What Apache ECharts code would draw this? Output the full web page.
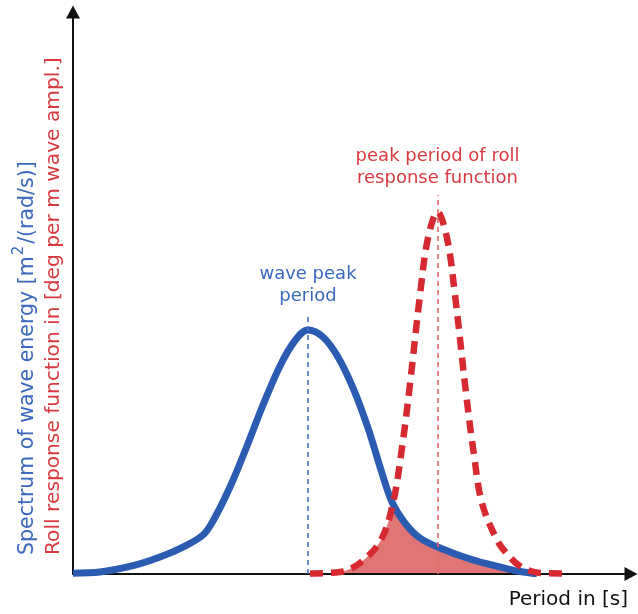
<!DOCTYPE html>
<html>
<head>
<meta charset="utf-8">
<script src="https://cdn.jsdelivr.net/npm/echarts@6/dist/echarts.min.js"></script>
<style>
  html, body { margin: 0; padding: 0; background: #fff; }
  #chart { width: 638px; height: 614px; }
</style>
</head>
<body>
<div id="chart"></div>
<script>
// Wave energy spectrum (period in s, arbitrary energy units)
const wavePeriods = [0, 0.968, 2.043, 3.118, 4.014, 4.659, 5.018, 5.627, 6.237, 6.810, 7.419, 7.921, 8.423, 8.961, 9.498, 10.036, 10.573, 11.039, 11.434, 11.900, 12.437, 13.154, 14.229, 15.305, 16.022, 16.631];
const waveEnergy  = [0.15, 0.36, 1.34, 3.03, 4.98, 6.94, 9.43, 15.48, 22.78, 30.07, 37.01, 41.28, 43.42, 42.17, 38.61, 33.10, 25.98, 18.51, 12.81, 9.07, 6.41, 4.63, 2.67, 1.25, 0.44, 0.04];

// Roll response function (period in s, arbitrary response units)
const rollPeriods  = [8.495, 9.570, 10.287, 11.039, 11.470, 11.756, 12.043, 12.437, 12.724, 13.065, 13.405, 13.692, 14.086, 14.373, 14.659, 15.197, 15.591, 16.022, 16.738, 17.634];
const rollResponse = [0.09, 0.36, 1.96, 6.05, 12.63, 21.17, 32.21, 49.64, 59.79, 64.41, 59.79, 49.64, 32.21, 21.17, 12.63, 6.05, 3.38, 1.42, 0.18, 0.09];

// Texts
const xAxisTitle = 'Period in [s]';
const waveTitleParts = ['Spectrum of wave energy [m', '2', '/(rad/s)]'];
const rollTitle = 'Roll response function in [deg per m wave ampl.]';
const waveNote = 'wave peak\nperiod';
const rollNote = 'peak period of roll\nresponse function';

const BLUE = '#2b5cb2';
const RED = '#d62a30';
const FILL = '#e07575';
const BLUE_TEXT = '#3a69bd';
const RED_TEXT = '#d93a40';
const FONT = 'DejaVu Sans';
const SMOOTH = 0.35;
const MARKER_OVERSHOOT = 3;

const pairs = (xs, ys) => xs.map((x, i) => [x, ys[i]]);
const peakOf = (xs, ys) => {
  let k = 0;
  ys.forEach((v, i) => { if (v > ys[k]) k = i; });
  return [xs[k], ys[k]];
};

const waveData = pairs(wavePeriods, waveEnergy);
const rollData = pairs(rollPeriods, rollResponse);
const wavePeak = peakOf(wavePeriods, waveEnergy);
const rollPeak = peakOf(rollPeriods, rollResponse);

function peakMarker(peak, color, text, textColor) {
  return {
    silent: true,
    symbol: 'none',
    animation: false,
    lineStyle: { color: color, width: 1.6, type: [5, 4], opacity: 1 },
    label: {
      show: true,
      position: 'end',
      distance: 6,
      formatter: text,
      color: textColor,
      fontFamily: FONT,
      fontSize: 18,
      lineHeight: 22,
      align: 'center'
    },
    emphasis: { disabled: true },
    data: [[{ coord: [peak[0], 0] }, { coord: [peak[0], peak[1] + MARKER_OVERSHOOT] }]]
  };
}

const axisCommon = {
  type: 'value',
  z: 3,
  axisTick: { show: false },
  axisLabel: { show: false },
  splitLine: { show: false },
  axisLine: {
    show: true,
    onZero: false,
    symbol: ['none', 'triangle'],
    symbolSize: [14, 13],
    lineStyle: { color: '#111', width: 2 }
  }
};

const chart = echarts.init(document.getElementById('chart'), null, { renderer: 'canvas' });
chart.setOption({
  animation: false,
  backgroundColor: '#fff',
  grid: { left: 73, right: 7, top: 12, bottom: 40 },
  xAxis: Object.assign({}, axisCommon, { min: 0, max: 20 }),
  yAxis: Object.assign({}, axisCommon, { min: 0, max: 100 }),
  series: [
    {
      // area under the roll response curve
      type: 'line', data: rollData, smooth: SMOOTH, symbol: 'none', silent: true, z: 1,
      lineStyle: { width: 0, opacity: 0 },
      areaStyle: { color: FILL, opacity: 1 }
    },
    {
      // white cover above the wave spectrum: keeps only the overlap of both areas
      type: 'line', data: waveData, smooth: SMOOTH, symbol: 'none', silent: true, z: 2,
      lineStyle: { width: 0, opacity: 0 },
      areaStyle: { color: '#fff', opacity: 1, origin: 'end' }
    },
    {
      name: 'wave spectrum',
      type: 'line', data: waveData, smooth: SMOOTH, symbol: 'none', silent: true, z: 4,
      lineStyle: { color: BLUE, width: 7 },
      markLine: peakMarker(wavePeak, '#4a74c6', waveNote, BLUE_TEXT)
    },
    {
      name: 'roll response',
      type: 'line', data: rollData, smooth: SMOOTH, symbol: 'none', silent: true, z: 5,
      lineStyle: { color: RED, width: 6.5, type: [13, 8] },
      markLine: peakMarker(rollPeak, '#e46a6a', rollNote, RED_TEXT)
    }
  ],
  graphic: [
    {
      type: 'text', x: 25, y: 555, rotation: Math.PI / 2, silent: true,
      style: {
        text: '{a|' + waveTitleParts[0] + '}{s|' + waveTitleParts[1] + '}{a|' + waveTitleParts[2] + '}',
        align: 'left', verticalAlign: 'middle',
        rich: {
          a: { fill: BLUE_TEXT, fontSize: 20.5, fontFamily: FONT, lineHeight: 26, verticalAlign: 'bottom' },
          s: { fill: BLUE_TEXT, fontSize: 15, fontFamily: FONT, lineHeight: 15, verticalAlign: 'top', padding: [0, 2, 0, 1] }
        }
      }
    },
    {
      type: 'text', x: 54, y: 555, rotation: Math.PI / 2, silent: true,
      style: {
        text: rollTitle, fill: RED_TEXT, fontSize: 20.2, fontFamily: FONT,
        align: 'left', verticalAlign: 'middle'
      }
    },
    {
      type: 'text', x: 628, y: 600, silent: true,
      style: {
        text: xAxisTitle, fill: '#111', fontSize: 20, fontFamily: FONT,
        align: 'right', verticalAlign: 'middle'
      }
    }
  ]
});
</script>
</body>
</html>
